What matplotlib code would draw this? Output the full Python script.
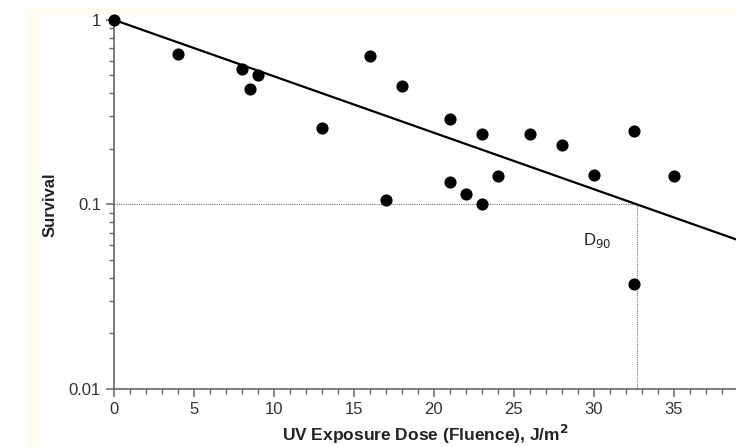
import matplotlib
matplotlib.use("Agg")
import matplotlib.pyplot as plt
import numpy as np
from matplotlib.ticker import FixedLocator, FixedFormatter, MultipleLocator, LogLocator, NullFormatter

plt.rcParams["font.family"] = ["Liberation Sans", "DejaVu Sans"]

dose = [0, 4, 8, 8.5, 9, 13, 16, 17, 18, 21, 21, 22, 23, 23, 24, 26, 28, 30, 32.5, 32.5, 35]
survival = [1.0, 0.65, 0.54, 0.42, 0.50, 0.26, 0.64, 0.106, 0.44, 0.29, 0.132, 0.114,
            0.24, 0.101, 0.143, 0.24, 0.21, 0.145, 0.25, 0.037, 0.143]

d90 = 32.7          # dose giving 90% kill
x_max = 38.9

fig = plt.figure(figsize=(7.36, 4.47), dpi=100)
fig.patch.set_facecolor("white")
# faint cream border of the scanned page
fig.patches.append(plt.Rectangle((0.036, 0.0), 0.018, 0.985, transform=fig.transFigure,
                                 color="#fffcf2", zorder=-1))
fig.patches.append(plt.Rectangle((0.036, 0.972), 0.964, 0.013, transform=fig.transFigure,
                                 color="#fffcf2", zorder=-1))

ax = fig.add_axes([0.155, 0.13, 0.845, 0.8255])
ax.set_yscale("log")
ax.set_xlim(0, x_max)
ax.set_ylim(0.01, 1)

# fitted exponential survival line
xs = np.linspace(0, x_max, 100)
ax.plot(xs, 10 ** (-xs / d90), color="black", lw=1.6, zorder=3)

# D90 guide lines
ax.plot([0, d90], [0.1, 0.1], color="#777777", lw=0.8, ls=(0, (1, 1)), zorder=2)
ax.plot([d90, d90], [0.01, 0.1], color="#777777", lw=0.8, ls=(0, (1, 1)), zorder=2)
ax.text(30.2, 0.064, "D$_{90}$", fontsize=12, color="#222222", ha="center", va="center")

ax.scatter(dose, survival, s=60, color="black", zorder=4, clip_on=False)

for s in ["top", "right"]:
    ax.spines[s].set_visible(False)
for s in ["left", "bottom"]:
    ax.spines[s].set_color("#666666")
    ax.spines[s].set_linewidth(1.2)

ax.yaxis.set_major_locator(FixedLocator([0.01, 0.1, 1]))
ax.yaxis.set_major_formatter(FixedFormatter(["0.01", "0.1", "1"]))
ax.yaxis.set_minor_locator(LogLocator(base=10, subs=np.arange(2, 10)))
ax.yaxis.set_minor_formatter(NullFormatter())
ax.xaxis.set_major_locator(MultipleLocator(5))
ax.xaxis.set_minor_locator(MultipleLocator(1))

ax.tick_params(which="major", length=6, width=1.1, color="#666666",
               labelsize=12, labelcolor="#333333")
ax.tick_params(which="minor", length=3.5, width=1.0, color="#666666")

ax.set_xlabel("UV Exposure Dose (Fluence), J/m$^\\mathbf{2}$", fontsize=12.5,
              fontweight="bold", color="#222222", labelpad=4)
ax.set_ylabel("Survival", fontsize=12, fontweight="bold", color="#222222", labelpad=8)

fig.savefig("out.png", dpi=100)
